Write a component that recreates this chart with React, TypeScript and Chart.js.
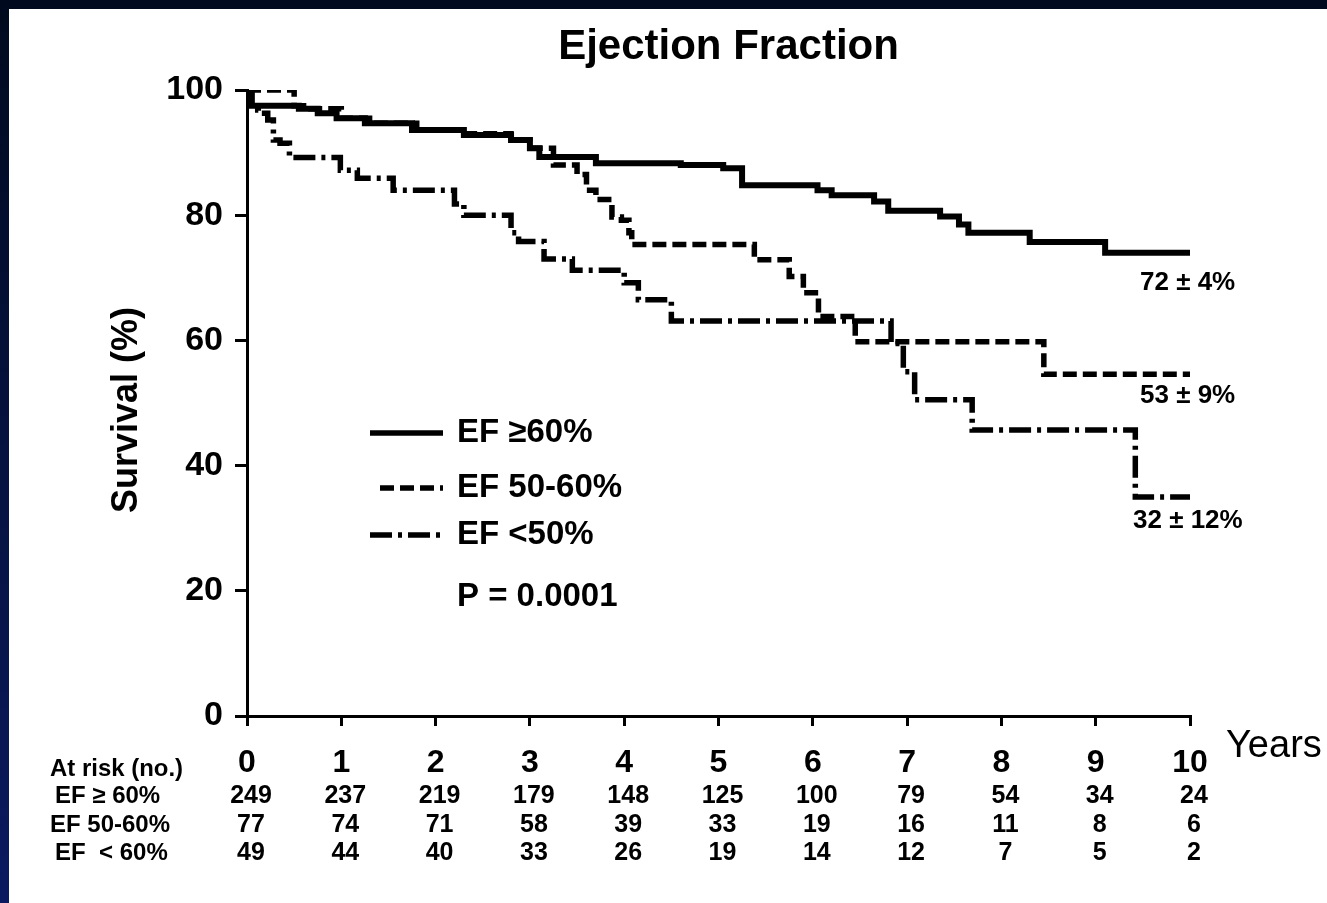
import React, { useEffect, useRef } from 'react';
import { Chart, registerables } from 'chart.js';

Chart.register(...registerables);

const FONT = '"Liberation Sans", Arial, Helvetica, sans-serif';

// Time axis (years) and tick labels
const yearTicks = [0, 1, 2, 3, 4, 5, 6, 7, 8, 9, 10];
const survivalTicks = [0, 20, 40, 60, 80, 100];

// Series names
const seriesNames = ['EF \u226560%', 'EF 50-60%', 'EF <50%'];

// EF >= 60% (solid)
const efHighTime = [0, 0.05, 0.55, 0.75, 0.95, 1.25, 1.75, 2.3, 2.8, 3.0, 3.1, 3.7, 4.6, 5.05, 5.25, 6.05, 6.2, 6.65, 6.8, 7.35, 7.55, 7.65, 8.3, 9.1, 10.05];
const efHighSurv = [100, 97.5, 97, 96.3, 95.5, 94.7, 93.6, 92.8, 92, 90.7, 89.3, 88.3, 88, 87.5, 84.8, 84, 83.2, 82.2, 80.7, 79.8, 78.5, 77.2, 75.7, 74, 74];

// EF 50-60% (dashed)
const efMidTime = [0, 0.5, 0.6, 1.0, 1.3, 1.8, 2.3, 2.8, 3.0, 3.25, 3.5, 3.6, 3.7, 3.87, 3.97, 4.05, 4.08, 5.38, 5.75, 5.9, 6.06, 6.45, 8.45, 10.0];
const efMidSurv = [100, 97.5, 97, 95.5, 94.7, 93.6, 93, 92, 90.7, 88, 86.5, 84, 82.5, 79.7, 79.2, 77.2, 75.3, 72.9, 70.2, 67.6, 63.8, 59.8, 54.6, 54.6];

// EF < 50% (dot-dash)
const efLowTime = [0, 0.05, 0.12, 0.22, 0.28, 0.35, 0.45, 0.99, 1.17, 1.55, 2.2, 2.3, 2.8, 2.88, 3.15, 3.45, 4.0, 4.15, 4.5, 6.83, 6.96, 7.08, 7.69, 9.42, 10.05];
const efLowSurv = [100, 96.8, 96.3, 95.2, 92, 91.5, 89.2, 87.2, 85.9, 84, 81.8, 80, 77.2, 75.8, 73, 71.2, 69.2, 66.5, 63.1, 59.5, 55, 50.5, 45.7, 35, 35];

// End-of-follow-up survival labels
const endLabels = ['72 \u00b1 4%', '53 \u00b1 9%', '32 \u00b1 12%'];

// Numbers at risk
const riskHeader = 'At risk (no.)';
const riskRowLabels = ['EF \u2265 60%', 'EF 50-60%', 'EF  < 60%'];
const riskHigh = [249, 237, 219, 179, 148, 125, 100, 79, 54, 34, 24];
const riskMid = [77, 74, 71, 58, 39, 33, 19, 16, 11, 8, 6];
const riskLow = [49, 44, 40, 33, 26, 19, 14, 12, 7, 5, 2];

const pValueText = 'P = 0.0001';
const titleText = 'Ejection Fraction';
const yTitleText = 'Survival (%)';
const xUnitText = 'Years';

const dashes: number[][] = [[], [14, 6], [22, 6, 4, 6]];

function toPoints(t: number[], s: number[]) {
  return t.map((x, i) => ({ x, y: s[i] }));
}

const decorPlugin = {
  id: 'decor',
  beforeDraw(chart: any) {
    const ctx = chart.ctx as CanvasRenderingContext2D;
    ctx.save();
    const g = ctx.createLinearGradient(0, 0, 0, chart.height);
    g.addColorStop(0, '#000a1e');
    g.addColorStop(1, '#0b1a60');
    ctx.fillStyle = g;
    ctx.fillRect(0, 0, chart.width, chart.height);
    ctx.fillStyle = '#ffffff';
    ctx.fillRect(9, 9, chart.width - 9, chart.height - 9);
    ctx.restore();
  },
  afterDraw(chart: any) {
    const ctx = chart.ctx as CanvasRenderingContext2D;
    const xs = chart.scales.x;
    const area = chart.chartArea;
    ctx.save();
    ctx.fillStyle = '#000';
    ctx.strokeStyle = '#000';

    // Title
    ctx.font = `bold 42px ${FONT}`;
    ctx.textAlign = 'center';
    ctx.textBaseline = 'middle';
    ctx.fillText(titleText, (area.left + area.right) / 2 + 10, 47);

    // Y title
    ctx.save();
    ctx.translate(127, 410);
    ctx.rotate(-Math.PI / 2);
    ctx.font = `bold 36px ${FONT}`;
    ctx.fillText(yTitleText, 0, 0);
    ctx.restore();

    // Years unit
    ctx.font = `38px ${FONT}`;
    ctx.textAlign = 'left';
    ctx.fillText(xUnitText, area.right + 36, 747);

    // Legend
    const legendY = [433, 488, 535];
    const legendX0 = [370, 380, 370];
    seriesNames.forEach((name, i) => {
      ctx.beginPath();
      ctx.setLineDash(dashes[i]);
      ctx.lineWidth = 5.5;
      ctx.moveTo(legendX0[i], legendY[i]);
      ctx.lineTo(443, legendY[i]);
      ctx.stroke();
      ctx.setLineDash([]);
      ctx.font = `bold 33px ${FONT}`;
      ctx.textAlign = 'left';
      ctx.fillText(name, 457, legendY[i]);
    });
    ctx.fillText(pValueText, 457, 597);

    // End labels
    ctx.font = `bold 26px ${FONT}`;
    const endY = [283, 396, 521];
    const endX = [1140, 1140, 1133];
    endLabels.forEach((t, i) => ctx.fillText(t, endX[i], endY[i]));

    // At-risk table
    ctx.font = `bold 24px ${FONT}`;
    ctx.textAlign = 'left';
    ctx.fillText(riskHeader, 50, 769, 133);
    const rowY = [796, 825, 853];
    const rowX = [55, 50, 55];
    riskRowLabels.forEach((t, i) => ctx.fillText(t, rowX[i], rowY[i], 177 - rowX[i]));
    ctx.font = `bold 25px ${FONT}`;
    ctx.textAlign = 'center';
    [riskHigh, riskMid, riskLow].forEach((row, r) => {
      row.forEach((v, i) => {
        const px = xs.getPixelForValue(yearTicks[i]);
        ctx.fillText(String(v), px + 4, rowY[r]);
      });
    });
    ctx.restore();
  },
};

export default function App() {
  const ref = useRef<HTMLCanvasElement | null>(null);
  useEffect(() => {
    if (!ref.current) return;
    const chart = new Chart(ref.current, {
      type: 'line',
      data: {
        datasets: [
          { label: seriesNames[0], data: toPoints(efHighTime, efHighSurv), borderDash: dashes[0], borderWidth: 6 },
          { label: seriesNames[1], data: toPoints(efMidTime, efMidSurv), borderDash: dashes[1], borderWidth: 5.5 },
          { label: seriesNames[2], data: toPoints(efLowTime, efLowSurv), borderDash: dashes[2], borderWidth: 5.5 },
        ].map((d) => ({
          ...d,
          borderColor: '#000',
          backgroundColor: '#000',
          stepped: 'before' as const,
          pointRadius: 0,
          fill: false,
          borderCapStyle: 'butt' as const,
          borderJoinStyle: 'miter' as const,
        })),
      },
      options: {
        animation: false,
        responsive: false,
        maintainAspectRatio: false,
        layout: { padding: { top: 90, right: 137, left: 0, bottom: 0 } },
        plugins: {
          legend: { display: false },
          title: { display: false },
          tooltip: { enabled: false },
        },
        scales: {
          x: {
            type: 'linear',
            min: 0,
            max: 10,
            afterBuildTicks: (s: any) => {
              s.ticks = yearTicks.map((v) => ({ value: v }));
            },
            ticks: {
              color: '#000',
              font: { family: FONT, size: 32, weight: 'bold' },
              padding: 18,
              maxRotation: 0,
              autoSkip: false,
            },
            grid: { drawOnChartArea: false, drawTicks: true, tickLength: 10, color: '#000', lineWidth: 3 },
            border: { display: true, color: '#000', width: 3 },
            afterFit: (s: any) => {
              s.height = 187;
            },
          },
          y: {
            type: 'linear',
            min: 0,
            max: 100,
            afterBuildTicks: (s: any) => {
              s.ticks = survivalTicks.map((v) => ({ value: v }));
            },
            ticks: {
              color: '#000',
              font: { family: FONT, size: 34, weight: 'bold' },
              padding: 12,
            },
            grid: { drawOnChartArea: false, drawTicks: true, tickLength: 12, color: '#000', lineWidth: 3 },
            border: { display: true, color: '#000', width: 3 },
            afterFit: (s: any) => {
              s.width = 247;
            },
          },
        },
      },
      plugins: [decorPlugin],
    });
    return () => chart.destroy();
  }, []);
  return (
    <div style={{ position: 'fixed', left: 0, top: 0, width: 1327, height: 903 }}>
      <canvas ref={ref} width={1327} height={903} style={{ display: 'block', width: 1327, height: 903 }} />
    </div>
  );
}
